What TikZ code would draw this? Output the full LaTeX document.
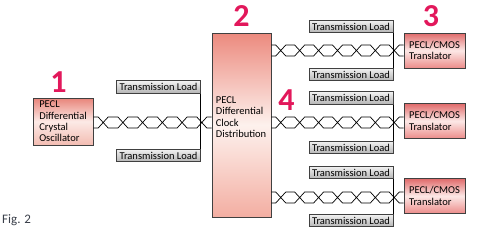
\documentclass[tikz,border=0pt]{standalone}
\usepackage{fontspec}
\setmainfont{Carlito}
\usetikzlibrary{calc}
\definecolor{mark-red}{HTML}{E2185B}
\definecolor{osc-top}{HTML}{E8847A}
\definecolor{osc-mid}{HTML}{FCEAE6}
\definecolor{osc-bot}{HTML}{F3BCB2}
\definecolor{clk-top}{HTML}{EC8A7E}
\definecolor{clk-mid}{HTML}{FDF1ED}
\definecolor{clk-bot}{HTML}{F3AEA2}
\definecolor{tr-top}{HTML}{E06A6A}
\definecolor{tr-mid}{HTML}{FCE8E6}
\definecolor{tr-bot}{HTML}{EC8C8A}
\definecolor{load-top}{HTML}{F2F2F2}
\definecolor{load-bot}{HTML}{B4B4B4}
\definecolor{fig-text}{HTML}{3A3F4A}

% twisted pair between two points, y taken from the second one
\newcommand{\twistpair}[3]{%
  \draw[wire] let \p1=(#1), \p2=(#2), \n1={(\x2-\x1)/#3} in
    \foreach \i in {1,...,#3}{
      ({\x1+(\i-1)*\n1},{\y2+5.5pt}) -- ({\x1+(\i-.5)*\n1-5pt},{\y2+5.5pt})
        -- ({\x1+(\i-.5)*\n1+5pt},{\y2-5.5pt}) -- ({\x1+\i*\n1},{\y2-5.5pt})
      ({\x1+(\i-1)*\n1},{\y2-5.5pt}) -- ({\x1+(\i-.5)*\n1-5pt},{\y2-5.5pt})
        -- ({\x1+(\i-.5)*\n1+5pt},{\y2+5.5pt}) -- ({\x1+\i*\n1},{\y2+5.5pt})
    };}

\begin{document}
\begin{tikzpicture}[x=1pt, y=-1pt,
    every node/.style={font=\fontsize{10.5}{11.3}\selectfont},
    wire/.style={black, line width=0.7pt},
    chipbox/.style={draw=black!75, line width=0.6pt, inner sep=0pt, align=left},
    loadbox/.style={draw=black!75, line width=0.6pt, inner sep=0pt,
        top color=load-top, bottom color=load-bot,
        minimum width=84pt, minimum height=12.5pt},
    bignum/.style={font=\fontsize{32}{32}\selectfont\bfseries, text=mark-red, inner sep=0pt}]
  \useasboundingbox (0,0) rectangle (487,234);

  % oscillator and clock distribution
  \node[chipbox, top color=osc-top, bottom color=osc-bot, middle color=osc-mid,
        minimum width=60pt, minimum height=47pt] (osc) at (63,121.5)
        {PECL\\Differential\\Crystal\\Oscillator};
  \node[chipbox, top color=clk-top, bottom color=clk-bot, middle color=clk-mid,
        minimum width=59pt, minimum height=184pt] (clk) at (241.5,125) {};
  \node[inner sep=0pt, align=left, anchor=west] (clktxt) at ([xshift=4pt, yshift=8pt]clk.west)
        {PECL\\Differential\\Clock\\Distribution};

  % translators
  \node[chipbox, top color=tr-top, bottom color=tr-bot, middle color=tr-mid,
        minimum width=61pt, minimum height=35pt] (tr1) at (434.5,50.5) {PECL/CMOS\\Translator};
  \node[chipbox, top color=tr-top, bottom color=tr-bot, middle color=tr-mid,
        minimum width=61pt, minimum height=35pt] (tr2) at (434.5,121) {PECL/CMOS\\Translator};
  \node[chipbox, top color=tr-top, bottom color=tr-bot, middle color=tr-mid,
        minimum width=61pt, minimum height=35pt] (tr3) at (434.5,196) {PECL/CMOS\\Translator};

  % transmission loads
  \node[loadbox] (ll1) at (158.5,87) {Transmission Load};
  \node[loadbox] (ll2) at (158.5,155.5) {Transmission Load};
  \node[loadbox] (rl1) at (351,26.5) {Transmission Load};
  \node[loadbox] (rl2) at (351,74.5) {Transmission Load};
  \node[loadbox] (rl3) at (351,98) {Transmission Load};
  \node[loadbox] (rl4) at (351,147.5) {Transmission Load};
  \node[loadbox] (rl5) at (351,172.5) {Transmission Load};
  \node[loadbox] (rl6) at (351,220.5) {Transmission Load};

  \draw[wire] (ll1.south east) -- (ll2.north east);
  \draw[wire] (rl1.south east) -- (rl2.north east);
  \draw[wire] (rl3.south east) -- (rl4.north east);
  \draw[wire] (rl5.south east) -- (rl6.north east);

  % twisted pairs
  \twistpair{osc.east}{clk.west |- 0,122.5}{6}
  \twistpair{clk.east |- tr1.west}{tr1.west}{7}
  \twistpair{clk.east |- 0,122.5}{tr2.west |- 0,122.5}{7}
  \twistpair{clk.east |- 0,197.5}{tr3.west |- 0,197.5}{7}

  % numbers
  \node[bignum] (n1) at (58.5,82.5) {1};
  \node[bignum] (n2) at (241.5,16.5) {2};
  \node[bignum] (n3) at (431,16.5) {3};
  \node[bignum] (n4) at (286.5,100) {4};

  \node[font=\fontsize{13}{13}\selectfont, text=fig-text, inner sep=0pt, anchor=west] (fig) at (2,220) {Fig. 2};
\end{tikzpicture}
\end{document}
